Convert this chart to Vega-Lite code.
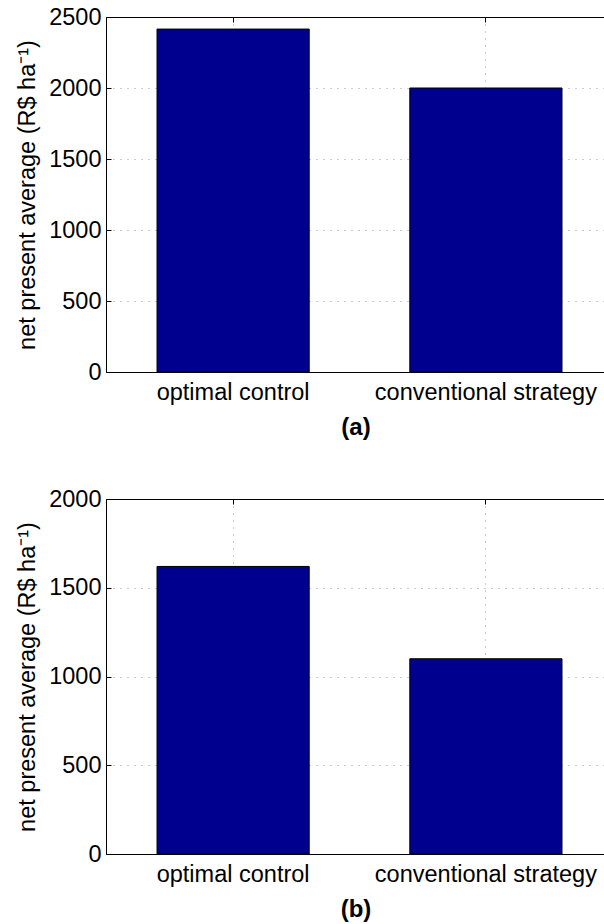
{
  "$schema": "https://vega.github.io/schema/vega-lite/v6.json",
  "padding": {"left": 15, "top": 5, "right": 0, "bottom": 0},
  "spacing": 47,
  "config": {
    "view": {"stroke": null},
    "axis": {
      "labelFont": "Liberation Sans", "titleFont": "Liberation Sans",
      "labelFontSize": 23.5, "titleFontSize": 23.5,
      "labelColor": "#000", "titleColor": "#000", "labelLimit": 0,
      "domainColor": "#000", "tickColor": "#000", "domainWidth": 1,
      "gridColor": "#999", "gridDash": [1, 6], "gridOpacity": 1,
      "tickSize": -5
    },
    "axisY": {"titleFontWeight": "normal", "labelPadding": 10, "titlePadding": 9, "format": "d"},
    "axisX": {"titleFontWeight": "bold", "labelPadding": 13, "titlePadding": 12, "titleFontSize": 24}
  },
  "vconcat": [
    {
      "width": 499, "height": 355,
      "data": {"values": [
        {"strategy": "optimal control", "value": 2415},
        {"strategy": "conventional strategy", "value": 2000}
      ]},
      "layer": [
        {
          "mark": {"type": "bar", "color": "#00008F", "stroke": "#000", "strokeWidth": 1},
          "encoding": {
            "x": {"field": "strategy", "type": "nominal", "sort": null,
                  "scale": {"paddingInner": 0.398, "paddingOuter": 0.186, "align": 0.5426},
                  "axis": {"title": "(a)", "labelAngle": 0, "bandPosition": 0.5, "grid": true}},
            "y": {"field": "value", "type": "quantitative",
                  "scale": {"domain": [0, 2500], "nice": false},
                  "axis": {"values": [0, 500, 1000, 1500, 2000, 2500], "grid": true,
                           "title": "net present average (R$ ha⁻¹)"}}
          }
        },
        {
          "mark": {"type": "bar", "opacity": 0},
          "encoding": {
            "x": {"field": "strategy", "type": "nominal", "sort": null,
                  "axis": {"orient": "top", "labels": false, "title": null, "grid": false, "bandPosition": 0.5}},
            "y": {"field": "value", "type": "quantitative"}
          }
        }
      ],
      "resolve": {"axis": {"x": "independent"}}
    },
    {
      "width": 499, "height": 355,
      "data": {"values": [
        {"strategy": "optimal control", "value": 1620},
        {"strategy": "conventional strategy", "value": 1100}
      ]},
      "layer": [
        {
          "mark": {"type": "bar", "color": "#00008F", "stroke": "#000", "strokeWidth": 1},
          "encoding": {
            "x": {"field": "strategy", "type": "nominal", "sort": null,
                  "scale": {"paddingInner": 0.398, "paddingOuter": 0.186, "align": 0.5426},
                  "axis": {"title": "(b)", "labelAngle": 0, "bandPosition": 0.5, "grid": true}},
            "y": {"field": "value", "type": "quantitative",
                  "scale": {"domain": [0, 2000], "nice": false},
                  "axis": {"values": [0, 500, 1000, 1500, 2000], "grid": true,
                           "title": "net present average (R$ ha⁻¹)"}}
          }
        },
        {
          "mark": {"type": "bar", "opacity": 0},
          "encoding": {
            "x": {"field": "strategy", "type": "nominal", "sort": null,
                  "axis": {"orient": "top", "labels": false, "title": null, "grid": false, "bandPosition": 0.5}},
            "y": {"field": "value", "type": "quantitative"}
          }
        }
      ],
      "resolve": {"axis": {"x": "independent"}}
    }
  ]
}
